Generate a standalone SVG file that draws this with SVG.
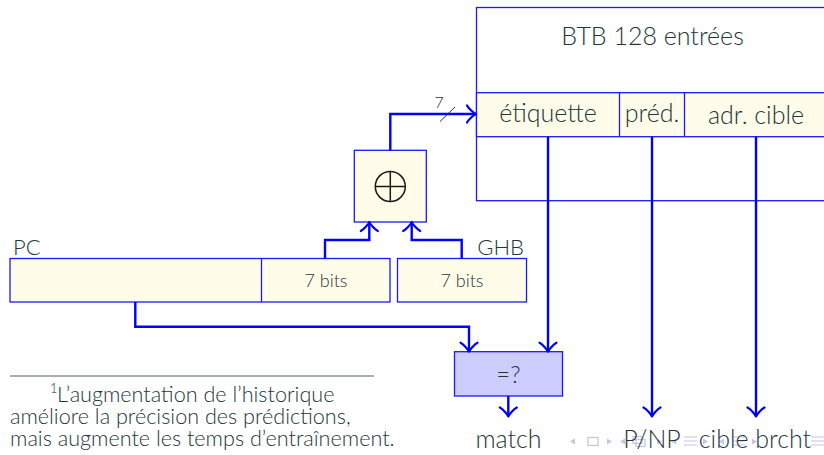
<svg xmlns="http://www.w3.org/2000/svg" width="824" height="455" viewBox="0 0 824 455">
<style>
.box{fill:#fffce9;stroke:#1a1aff;stroke-width:1.3}
.plain{fill:#ffffff;stroke:#1a1aff;stroke-width:1.3}
.cmp{fill:#ccccff;stroke:#1a1aff;stroke-width:1.3}
.wire{fill:none;stroke:#0000ff;stroke-width:2.4;stroke-linejoin:miter}
.t{font-family:Lato,"Liberation Sans",sans-serif;font-weight:300;fill:#23373b}
.nav{fill:#c4c4e4}
.navs{fill:none;stroke:#c4c4e4;stroke-width:1.2}
</style>
<defs>
<marker id="ar" markerUnits="userSpaceOnUse" viewBox="-11 -11 13 22" refX="0" refY="0" markerWidth="13" markerHeight="22" orient="auto">
<path d="M -9,-8.5 C -7.4,-5.3 -1.6,-0.55 0,0 C -1.6,0.55 -7.4,5.3 -9,8.5" fill="none" stroke="#0000ff" stroke-width="2.2" stroke-linecap="round" stroke-linejoin="round"/>
</marker>
</defs>

<g id="btb">
<rect class="plain" x="476.5" y="7.5" width="360" height="193.2"/>
<rect class="box" x="476.5" y="92.7" width="360" height="44"/>
<line x1="619.5" y1="92.7" x2="619.5" y2="136.7" stroke="#1a1aff" stroke-width="1.3"/>
<line x1="684.5" y1="92.7" x2="684.5" y2="136.7" stroke="#1a1aff" stroke-width="1.3"/>
<text class="t" x="652.5" y="45" font-size="25" text-anchor="middle">BTB 128 entrées</text>
<text class="t" x="548" y="121.7" font-size="25" text-anchor="middle">étiquette</text>
<text class="t" x="652" y="121.7" font-size="25" text-anchor="middle">préd.</text>
<text class="t" x="756" y="124" font-size="25" text-anchor="middle">adr. cible</text>
</g>

<g id="xor">
<rect class="box" x="354.3" y="150.3" width="72" height="71.7"/>
<circle cx="390.3" cy="186.5" r="15" fill="none" stroke="#1a1a1a" stroke-width="1.5"/>
<line x1="375.3" y1="186.5" x2="405.3" y2="186.5" stroke="#1a1a1a" stroke-width="1.5"/>
<line x1="390.3" y1="171.5" x2="390.3" y2="201.5" stroke="#1a1a1a" stroke-width="1.5"/>
</g>

<g id="pc">
<rect class="box" x="10" y="258.5" width="380" height="43.5"/>
<line x1="261.5" y1="258.5" x2="261.5" y2="302" stroke="#1a1aff" stroke-width="1.3"/>
<text class="t" x="13" y="255" font-size="22">PC</text>
<text class="t" x="326" y="287" font-size="18" text-anchor="middle">7 bits</text>
</g>

<g id="ghb">
<rect class="box" x="397.5" y="258.5" width="129" height="43.5"/>
<text class="t" x="524" y="254.5" font-size="22" text-anchor="end">GHB</text>
<text class="t" x="462" y="287" font-size="18" text-anchor="middle">7 bits</text>
</g>

<g id="cmp">
<rect class="cmp" x="454.5" y="351.7" width="108" height="44.3"/>
<text class="t" x="508.5" y="383" font-size="24" text-anchor="middle">=?</text>
</g>

<g id="connectors">
<path class="wire" d="M390.3,150.3 V114 H476" marker-end="url(#ar)"/>
<line x1="440" y1="121.5" x2="455" y2="107" stroke="#23373b" stroke-width="1"/>
<text class="t" x="434.5" y="108" font-size="16">7</text>
<path class="wire" d="M325,258.5 V240 H369.3 V222" marker-end="url(#ar)"/>
<path class="wire" d="M461.7,258.5 V240 H411.7 V222" marker-end="url(#ar)"/>
<path class="wire" d="M135.3,302 V326.7 H469 V351.7" marker-end="url(#ar)"/>
<path class="wire" d="M548,136.7 V351.7" marker-end="url(#ar)"/>
<path class="wire" d="M508.3,396 V416.5" marker-end="url(#ar)"/>
<path class="wire" d="M652,136.7 V416.5" marker-end="url(#ar)"/>
<path class="wire" d="M756,136.7 V416.5" marker-end="url(#ar)"/>
</g>

<g id="nav">
<path class="nav" d="M570,441.5 L575,438.5 L575,444.5 Z"/>
<rect class="navs" x="588" y="437.5" width="10" height="8"/>
<path class="nav" d="M612,441.5 L607,438.5 L607,444.5 Z"/>
<path class="nav" d="M620,441.5 L625,438.5 L625,444.5 Z"/>
<rect class="navs" x="633" y="436.5" width="9" height="7"/>
<rect class="navs" x="636" y="439.5" width="9" height="7"/>
<path class="nav" d="M662,441.5 L657,438.5 L657,444.5 Z"/>
<path class="nav" d="M671,441.5 L676,438.5 L676,444.5 Z"/>
<path class="navs" d="M684,437 H697 M684,441 H697 M684,445 H697"/>
<path class="nav" d="M708,441.5 L703,438.5 L703,444.5 Z"/>
<path class="nav" d="M719,441.5 L724,438.5 L724,444.5 Z"/>
<path class="navs" d="M732,437 H745 M732,441 H745 M732,445 H745"/>
<path class="nav" d="M757,441.5 L752,438.5 L752,444.5 Z"/>
<path class="navs" d="M811,437 H824 M811,441 H824 M811,445 H824"/>
</g>

<g id="outputs">
<text class="t" x="508.5" y="447.7" font-size="25" text-anchor="middle">match</text>
<text class="t" x="652" y="447.7" font-size="25" text-anchor="middle">P/NP</text>
<text class="t" x="755" y="447.7" font-size="25" text-anchor="middle">cible brcht</text>
</g>

<g id="footnote">
<line x1="10" y1="376" x2="374" y2="376" stroke="#23373b" stroke-width="0.8"/>
<text class="t" font-size="21.6"><tspan x="50" y="393" font-size="13">1</tspan><tspan x="57" y="402">L’augmentation de l’historique</tspan><tspan x="10" y="424">améliore la précision des prédictions,</tspan><tspan x="10" y="446">mais augmente les temps d’entraînement.</tspan></text>
</g>
</svg>
